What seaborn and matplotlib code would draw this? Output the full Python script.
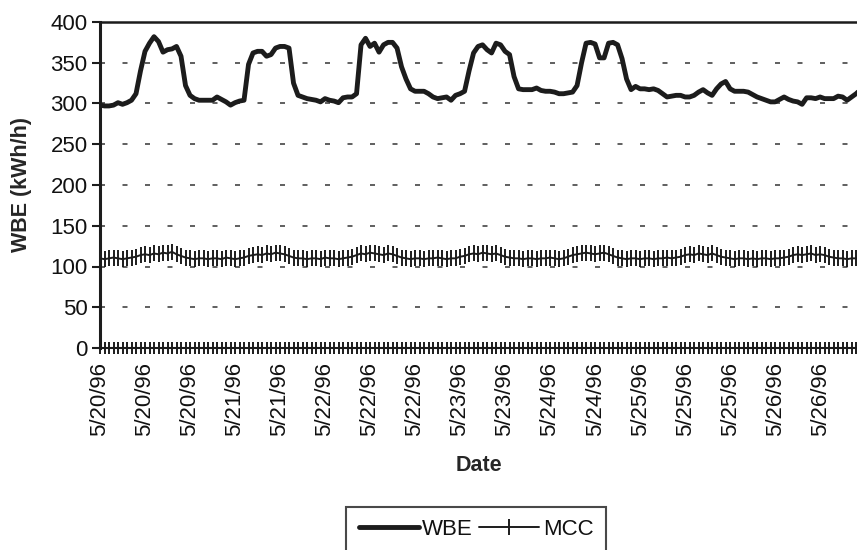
import numpy as np
import pandas as pd
import matplotlib
matplotlib.use("Agg")
import matplotlib.pyplot as plt
import seaborn as sns

# ---- data (hourly, starting 5/20/96 00:00) ----
wbe = [
    # 5/20
    298, 297, 297, 298, 301, 299, 301, 304, 312, 340, 364, 374, 382, 376, 363, 366, 367, 370, 358, 322, 310, 306, 304, 304,
    # 5/21
    304, 304, 308, 305, 302, 298, 301, 303, 304, 348, 362, 364, 364, 358, 360, 368, 370, 370, 368, 325, 310, 308, 306, 305,
    # 5/22
    304, 302, 306, 304, 303, 301, 307, 308, 308, 312, 372, 380, 370, 374, 363, 372, 375, 375, 368, 345, 330, 318, 315, 315,
    # 5/23
    315, 312, 308, 306, 307, 308, 304, 310, 312, 315, 340, 362, 370, 372, 366, 362, 374, 372, 364, 360, 333, 318, 317, 317,
    # 5/24
    317, 319, 316, 315, 315, 314, 312, 312, 313, 314, 322, 350, 374, 375, 373, 356, 356, 374, 375, 372, 355, 330, 317, 321,
    # 5/25
    318, 318, 317, 318, 316, 312, 308, 309, 310, 310, 308, 308, 310, 314, 317, 313, 310, 318, 324, 327, 318, 315, 315, 315,
    # 5/26
    314, 311, 308, 306, 304, 302, 302, 305, 308, 305, 303, 302, 299, 307, 307, 306, 308, 306, 306, 306, 309, 308, 304, 308, 312, 317,
]
mcc = [
    110, 109, 110, 111, 110, 109, 110, 111, 112, 114, 115, 114, 116, 115, 117, 116, 118, 115, 113, 111, 110, 109, 110, 110,
    109, 110, 110, 109, 111, 110, 109, 110, 111, 113, 114, 115, 114, 116, 115, 117, 116, 115, 113, 111, 110, 110, 109, 110,
    110, 109, 111, 110, 110, 109, 110, 111, 112, 114, 116, 115, 117, 116, 115, 114, 116, 115, 113, 111, 110, 109, 110, 110,
    109, 110, 110, 111, 110, 109, 110, 110, 112, 113, 115, 116, 115, 117, 116, 115, 116, 114, 112, 111, 110, 110, 109, 110,
    110, 109, 110, 110, 111, 110, 109, 110, 112, 114, 115, 116, 117, 116, 115, 116, 117, 115, 113, 111, 110, 109, 110, 110,
    109, 110, 110, 109, 110, 110, 111, 110, 111, 112, 114, 115, 114, 116, 115, 114, 116, 114, 112, 111, 110, 109, 110, 110,
    109, 110, 109, 110, 110, 109, 110, 110, 111, 112, 114, 115, 114, 115, 116, 114, 115, 114, 112, 111, 110, 110, 109, 110, 110, 111,
]
baseline = [0] * len(wbe)
hours = list(range(len(wbe)))

tick_hours = [0, 10, 20, 30, 40, 50, 60, 70, 80, 90, 100, 110, 120, 130, 140, 150, 160]
tick_labels = ["5/20/96", "5/20/96", "5/20/96", "5/21/96", "5/21/96", "5/22/96", "5/22/96",
               "5/22/96", "5/23/96", "5/23/96", "5/24/96", "5/24/96", "5/25/96", "5/25/96",
               "5/25/96", "5/26/96", "5/26/96"]
y_ticks = [0, 50, 100, 150, 200, 250, 300, 350, 400]

df = pd.DataFrame({"hour": hours, "WBE": wbe, "MCC": mcc, "base": baseline})

sns.set_theme(style="white")
plt.rcParams["font.family"] = ["Liberation Sans", "DejaVu Sans"]

fig = plt.figure(figsize=(8.57, 5.5), dpi=100)
ax = fig.add_axes([100 / 857, 1 - 348 / 550, 1 - 100 / 857, (348 - 22) / 550])

ink = "#1c1c1c"
sns.lineplot(data=df, x="hour", y="WBE", ax=ax, color=ink, linewidth=3.5, label="WBE", zorder=4)
sns.lineplot(data=df, x="hour", y="MCC", ax=ax, color=ink, linewidth=1.4, marker="|",
             markersize=11, markeredgewidth=1.4, markeredgecolor=ink, label="MCC", zorder=3)
sns.lineplot(data=df, x="hour", y="base", ax=ax, color=ink, linewidth=1.4, marker="|",
             markersize=9, markeredgewidth=1.4, markeredgecolor=ink, label="_nolegend_",
             zorder=3, clip_on=False)

ax.set_xlim(0, 168.2)
ax.set_ylim(0, 400)
ax.set_yticks(y_ticks)
ax.set_yticklabels([str(v) for v in y_ticks], fontsize=16, color="#111111")
ax.set_xticks(tick_hours)
ax.set_xticklabels(tick_labels, rotation=90, fontsize=16, color="#111111")
ax.tick_params(axis="y", direction="out", length=6, width=1.5, color=ink, pad=3, left=True)
ax.tick_params(axis="x", direction="out", length=0, pad=10, bottom=True)

for v in y_ticks[1:-1]:
    ax.axhline(v, color="#444444", linewidth=1.2, linestyle=(0, (3, 10.5)), zorder=1)

for side in ["left", "top", "bottom"]:
    ax.spines[side].set_visible(True)
    ax.spines[side].set_color(ink)
ax.spines["left"].set_linewidth(2.2)
ax.spines["top"].set_linewidth(1.8)
ax.spines["bottom"].set_linewidth(1.5)
ax.spines["right"].set_visible(False)

ax.set_ylabel("WBE (kWh/h)", fontsize=15.5, fontweight="bold")
ax.set_xlabel("Date", fontsize=15.5, fontweight="bold", labelpad=14)
ax.yaxis.set_label_coords(-0.09, 0.5)

leg = ax.legend(loc="upper center", bbox_to_anchor=(476 / 857, 1 - 507 / 550),
                bbox_transform=fig.transFigure, ncol=2, frameon=True, fancybox=False,
                fontsize=16, handlelength=2.7, handletextpad=0.15, columnspacing=0.3,
                numpoints=1, borderpad=0.55, borderaxespad=0)
leg.get_frame().set_edgecolor(ink)
leg.get_frame().set_linewidth(1.5)
for t in leg.get_texts():
    t.set_color("#111111")

fig.savefig("out.png", dpi=100)
